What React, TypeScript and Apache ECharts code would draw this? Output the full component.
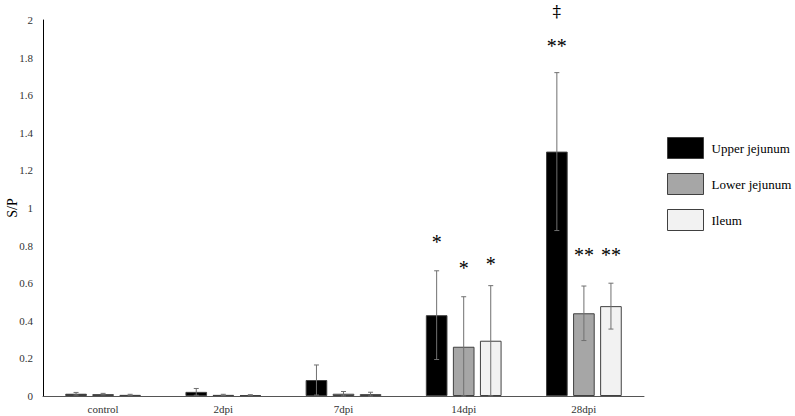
import React, { useEffect, useRef } from "react";
import * as echarts from "echarts";

const categories = ["control", "2dpi", "7dpi", "14dpi", "28dpi"];
const seriesNames = ["Upper jejunum", "Lower jejunum", "Ileum"];
const upperMean = [0.012, 0.022, 0.085, 0.43, 1.3];
const upperSd = [0.007, 0.018, 0.08, 0.236, 0.42];
const lowerMean = [0.01, 0.006, 0.012, 0.262, 0.44];
const lowerSd = [0.004, 0.003, 0.012, 0.266, 0.145];
const ileumMean = [0.006, 0.005, 0.01, 0.294, 0.478];
const ileumSd = [0.003, 0.002, 0.01, 0.293, 0.122];
const yTicks = [0, 0.2, 0.4, 0.6, 0.8, 1, 1.2, 1.4, 1.6, 1.8, 2];
// annotations: [category index, series index, y value of label centre, text]
const annotations: [number, number, number, string][] = [
  [3, 0, 0.82, "*"],
  [3, 1, 0.68, "*"],
  [3, 2, 0.7, "*"],
  [4, 0, 1.86, "**"],
  [4, 0, 2.05, "‡"],
  [4, 1, 0.75, "**"],
  [4, 2, 0.75, "**"],
];

const colors = ["#000000", "#a6a6a6", "#f2f2f2"];
const BAR_W = 0.18;
const BAR_GAP = 0.25;

function offsetFor(si: number, band: number) {
  const w = band * BAR_W;
  return (si - 1) * w * (1 + BAR_GAP);
}

export default function App() {
  const ref = useRef<HTMLDivElement>(null);
  useEffect(() => {
    if (!ref.current) return;
    const chart = echarts.init(ref.current, null, { renderer: "svg" });
    const means = [upperMean, lowerMean, ileumMean];
    const sds = [upperSd, lowerSd, ileumSd];

    const barSeries = seriesNames.map((n, i) => ({
      name: n,
      type: "bar",
      data: means[i],
      barWidth: BAR_W * 100 + "%",
      barGap: BAR_GAP * 100 + "%",
      itemStyle: { color: colors[i], borderColor: "#404040", borderWidth: 1 },
    }));

    const errSeries = seriesNames.map((n, si) => ({
      type: "custom",
      name: n + " err",
      z: 5,
      data: means[si].map((m, ci) => [ci, m - sds[si][ci], m + sds[si][ci]]),
      renderItem: (params: any, api: any) => {
        const ci = api.value(0);
        const band = api.size([1, 0])[0];
        const off = offsetFor(si, band);
        const low = api.coord([ci, Math.max(0, api.value(1))]);
        const high = api.coord([ci, api.value(2)]);
        const x = low[0] + off;
        const style = { stroke: "#707070", lineWidth: 1 };
        return {
          type: "group",
          children: [
            { type: "line", shape: { x1: x, y1: low[1], x2: x, y2: high[1] }, style },
            { type: "line", shape: { x1: x - 2.5, y1: high[1], x2: x + 2.5, y2: high[1] }, style },
            { type: "line", shape: { x1: x - 2.5, y1: low[1], x2: x + 2.5, y2: low[1] }, style },
          ],
        };
      },
      tooltip: { show: false },
    }));

    const annSeries = {
      type: "custom",
      name: "annotations",
      z: 6,
      clip: false,
      data: annotations.map((a) => [a[0], a[2], a[1], a[3]]),
      renderItem: (params: any, api: any) => {
        const a = annotations[params.dataIndex];
        const band = api.size([1, 0])[0];
        const p = api.coord([a[0], a[2]]);
        const isDagger = a[3] === "‡";
        return {
          type: "text",
          x: p[0] + offsetFor(a[1], band),
          y: p[1],
          style: {
            text: a[3],
            fill: "#000",
            font: isDagger ? "17px 'DejaVu Serif'" : "20px 'Liberation Serif'",
            align: "center",
            verticalAlign: "middle",
          },
        };
      },
    };

    chart.setOption({
      animation: false,
      textStyle: { fontFamily: "Liberation Serif" },
      grid: { left: 43, right: 151, top: 20, bottom: 20, containLabel: false, outerBoundsMode: "none" },
      legend: {
        orient: "vertical",
        left: 667,
        top: 137,
        padding: 0,
        icon: "rect",
        itemWidth: 36,
        itemHeight: 21,
        itemGap: 14,
        data: seriesNames,
        textStyle: { fontFamily: "Liberation Serif", fontSize: 13, color: "#000", padding: [0, 0, 0, 3], overflow: "none" },
        itemStyle: { borderColor: "#404040", borderWidth: 1 },
      },
      xAxis: {
        type: "category",
        data: categories,
        axisLine: { lineStyle: { color: "#555", width: 1 } },
        axisTick: { show: false },
        axisLabel: { show: true, color: "#333", fontSize: 11, fontFamily: "Liberation Serif", margin: 7, interval: 0 },
      },
      yAxis: {
        type: "value",
        min: 0,
        max: 2,
        interval: 0.2,
        name: "S/P",
        nameLocation: "middle",
        nameGap: 24,
        nameMoveOverlap: false,
        nameTextStyle: { fontFamily: "Liberation Serif", fontSize: 14, color: "#000" },
        axisLine: { show: true, lineStyle: { color: "#000", width: 1 } },
        axisTick: { show: false },
        splitLine: { show: false },
        axisLabel: {
          color: "#333",
          fontSize: 11,
          fontFamily: "Liberation Serif",
          margin: 10,
          formatter: (v: number) => {
            const t = yTicks.find((x) => Math.abs(x - v) < 1e-6);
            return t === undefined ? "" : String(t);
          },
        },
      },
      series: [...barSeries, ...errSeries, annSeries],
    });
    return () => chart.dispose();
  }, []);
  return <div ref={ref} style={{ width: 795, height: 416, position: "absolute", left: 0, top: 0 }} />;
}
